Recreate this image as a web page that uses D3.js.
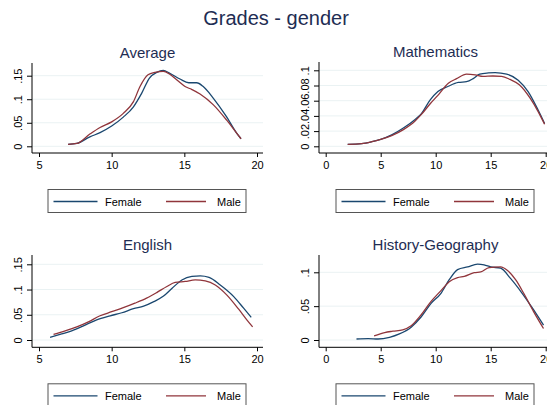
<!DOCTYPE html>
<html>
<head>
<meta charset="utf-8">
<script src="https://cdn.jsdelivr.net/npm/d3@7"></script>
<style>
  body { margin: 0; background: #fff; }
  svg { display: block; font-family: "Liberation Sans", Arial, sans-serif; }
</style>
</head>
<body>
<script>
// Kernel density of grades by gender

// Average
const avgFemale = [[7.0,0.004],[7.6,0.006],[8.5,0.020],[9.2,0.029],[10.0,0.043],[10.8,0.062],[11.5,0.084],[12.07,0.113],[12.6,0.145],[13.1,0.157],[13.55,0.161],[14.0,0.155],[14.7,0.143],[15.3,0.135],[15.85,0.135],[16.3,0.127],[17.0,0.102],[17.9,0.063],[18.6,0.028],[18.9,0.016]];
const avgMale = [[7.0,0.004],[7.6,0.006],[8.5,0.026],[9.2,0.040],[10.0,0.052],[10.8,0.070],[11.5,0.095],[11.95,0.127],[12.5,0.152],[12.98,0.157],[13.55,0.159],[14.0,0.153],[14.6,0.138],[15.05,0.127],[15.5,0.121],[16.08,0.111],[17.0,0.088],[17.9,0.056],[18.6,0.028],[18.9,0.016]];

// Mathematics
const mathFemale = [[2.0,0.0026],[3.27,0.0035],[4.2,0.006],[5.0,0.009],[6.0,0.015],[7.06,0.024],[8.1,0.035],[8.7,0.043],[9.5,0.061],[10.2,0.072],[11.15,0.079],[12.06,0.084],[12.8,0.085],[13.4,0.089],[14.0,0.095],[14.8,0.0965],[15.4,0.097],[16.45,0.095],[17.5,0.087],[18.4,0.072],[19.3,0.048],[19.9,0.030]];
const mathMale = [[2.0,0.0026],[3.27,0.0035],[4.2,0.006],[5.0,0.009],[6.0,0.014],[7.06,0.022],[8.1,0.033],[8.7,0.042],[9.5,0.056],[10.2,0.067],[11.15,0.083],[11.9,0.089],[12.8,0.095],[13.6,0.094],[14.3,0.092],[15.2,0.0925],[16.0,0.092],[16.75,0.088],[17.6,0.081],[18.6,0.063],[19.3,0.046],[19.9,0.029]];

// English
const engFemale = [[5.76,0.0053],[6.56,0.012],[7.25,0.018],[8.06,0.028],[8.97,0.040],[9.9,0.048],[10.7,0.054],[11.5,0.062],[12.2,0.067],[12.9,0.076],[13.57,0.087],[14.14,0.102],[14.83,0.119],[15.52,0.126],[16.1,0.127],[16.7,0.124],[17.47,0.109],[18.4,0.086],[19.08,0.063],[19.6,0.045]];
const engMale = [[6.0,0.011],[6.8,0.018],[7.6,0.026],[8.4,0.036],[9.2,0.048],[10.0,0.056],[10.8,0.064],[11.6,0.073],[12.4,0.083],[13.1,0.094],[13.8,0.106],[14.37,0.114],[15.06,0.116],[15.75,0.119],[16.44,0.117],[17.13,0.109],[17.93,0.089],[18.74,0.061],[19.3,0.040],[19.7,0.026]];

// History-Geography
const histFemale = [[2.8,0.0015],[3.86,0.002],[4.76,0.0015],[5.8,0.004],[6.7,0.009],[7.77,0.019],[8.67,0.034],[9.58,0.054],[10.48,0.069],[11.23,0.089],[11.99,0.104],[12.9,0.108],[13.8,0.112],[14.4,0.111],[15.0,0.108],[15.9,0.106],[16.8,0.091],[17.86,0.069],[18.8,0.047],[19.8,0.022]];
const histMale = [[4.4,0.006],[5.36,0.011],[6.1,0.013],[7.0,0.015],[7.77,0.021],[8.67,0.037],[9.58,0.057],[10.48,0.073],[11.23,0.086],[11.99,0.092],[12.6,0.094],[13.5,0.0995],[14.1,0.1005],[14.85,0.107],[15.9,0.108],[16.5,0.103],[17.26,0.089],[18.0,0.069],[18.9,0.042],[19.8,0.017]];

const subjects = ['Average', 'Mathematics', 'English', 'History-Geography'];
const femaleSeries = [avgFemale, mathFemale, engFemale, histFemale];
const maleSeries = [avgMale, mathMale, engMale, histMale];
const xTicks = [[5, 10, 15, 20], [0, 5, 10, 15, 20], [5, 10, 15, 20], [0, 5, 10, 15, 20]];
const yTicks = [[0, 0.05, 0.1, 0.15], [0, 0.02, 0.04, 0.06, 0.08, 0.1], [0, 0.05, 0.1, 0.15], [0, 0.05, 0.1]];
const legendLabels = ['Female', 'Male'];

const width = 547;
const height = 405;
const colors = {female: '#1a476f', male: '#90353b', title: '#1e2d53', grid: '#eaf2f3'};

// plot regions (left/right edge of axis, top of y axis, x axis position)
const panels = [
  {left: 32, right: 263, top: 63, bottom: 153, x0: 39, x1: 257, xd: [5, 20], y0: 146.3, y1: 75.7, yd: [0, 0.15]},
  {left: 319, right: 552, top: 62, bottom: 153, x0: 325.7, x1: 545.7, xd: [0, 20], y0: 146.3, y1: 70.3, yd: [0, 0.1]},
  {left: 32, right: 263, top: 255, bottom: 347.3, x0: 39, x1: 257, xd: [5, 20], y0: 340, y1: 264.3, yd: [0, 0.15]},
  {left: 319, right: 552, top: 255, bottom: 347.3, x0: 325.7, x1: 545.7, xd: [0, 20], y0: 340, y1: 272.3, yd: [0, 0.1]}
];

const svg = d3.select('body')
  .append('svg')
  .attr('width', width)
  .attr('height', height);

svg.append('rect')
  .attr('width', width)
  .attr('height', height)
  .attr('fill', '#fff');

// main title
svg.append('text')
  .attr('x', 276)
  .attr('y', 25)
  .attr('text-anchor', 'middle')
  .attr('font-size', 20)
  .attr('fill', colors.title)
  .text('Grades - gender');

const fmt = v => v === 0 ? '0' : d3.format('.2~f')(v).replace(/^0/, '');

panels.forEach((p, i) => {
  const g = svg.append('g');
  const xScale = d3.scaleLinear().domain(p.xd).range([p.x0, p.x1]);
  const yScale = d3.scaleLinear().domain(p.yd).range([p.y0, p.y1]);
  const cx = (p.left + p.right) / 2;

  // subtitle
  g.append('text')
    .attr('x', cx)
    .attr('y', p.top - 5.5)
    .attr('text-anchor', 'middle')
    .attr('font-size', 15)
    .attr('fill', colors.title)
    .text(subjects[i]);

  // gridlines
  g.selectAll('line.grid')
    .data(yTicks[i])
    .join('line')
    .attr('class', 'grid')
    .attr('x1', p.left)
    .attr('x2', p.right)
    .attr('y1', d => yScale(d))
    .attr('y2', d => yScale(d))
    .attr('stroke', colors.grid)
    .attr('stroke-width', 1);

  // curves
  const line = d3.line()
    .x(d => xScale(d[0]))
    .y(d => yScale(d[1]))
    .curve(d3.curveMonotoneX);

  g.append('path')
    .datum(femaleSeries[i])
    .attr('d', line)
    .attr('fill', 'none')
    .attr('stroke', colors.female)
    .attr('stroke-width', 1.3);

  g.append('path')
    .datum(maleSeries[i])
    .attr('d', line)
    .attr('fill', 'none')
    .attr('stroke', colors.male)
    .attr('stroke-width', 1.3);

  // Y axis
  const yAxis = d3.axisLeft(yScale)
    .tickValues(yTicks[i])
    .tickSize(5)
    .tickPadding(5)
    .tickFormat(fmt);

  const ya = g.append('g')
    .attr('transform', `translate(${p.left},0)`)
    .call(yAxis);
  ya.select('.domain').remove();
  ya.append('line')
    .attr('x1', 0).attr('x2', 0)
    .attr('y1', p.top).attr('y2', p.bottom)
    .attr('stroke', '#000');
  ya.selectAll('text')
    .attr('font-size', 11)
    .attr('fill', '#000')
    .attr('text-anchor', 'middle')
    .attr('x', null)
    .attr('dy', null)
    .attr('transform', 'translate(-10,0) rotate(-90)');

  // X axis
  const xAxis = d3.axisBottom(xScale)
    .tickValues(xTicks[i])
    .tickSize(4)
    .tickPadding(4);

  const xa = g.append('g')
    .attr('transform', `translate(0,${p.bottom})`)
    .call(xAxis);
  xa.select('.domain').remove();
  xa.append('line')
    .attr('x1', p.left).attr('x2', p.right)
    .attr('y1', 0).attr('y2', 0)
    .attr('stroke', '#000');
  xa.selectAll('text')
    .attr('font-size', 11)
    .attr('fill', '#000');

  // legend
  const ly = p.bottom + 36;
  const leg = g.append('g').attr('transform', `translate(${cx},${ly})`);
  leg.append('rect')
    .attr('x', -99.5)
    .attr('y', 0.5)
    .attr('width', 198)
    .attr('height', 23)
    .attr('fill', '#fff')
    .attr('stroke', '#555')
    .attr('stroke-width', 1);

  const items = [
    {label: legendLabels[0], color: colors.female, lx: -94, lw: 44, tx: -42.5},
    {label: legendLabels[1], color: colors.male, lx: 18.5, lw: 40, tx: 69.5}
  ];
  items.forEach(it => {
    leg.append('line')
      .attr('x1', it.lx).attr('x2', it.lx + it.lw)
      .attr('y1', 12.5).attr('y2', 12.5)
      .attr('stroke', it.color)
      .attr('stroke-width', 1.3);
    leg.append('text')
      .attr('x', it.tx)
      .attr('y', 16.5)
      .attr('font-size', 11)
      .attr('fill', '#000')
      .text(it.label);
  });
});
</script>
</body>
</html>
